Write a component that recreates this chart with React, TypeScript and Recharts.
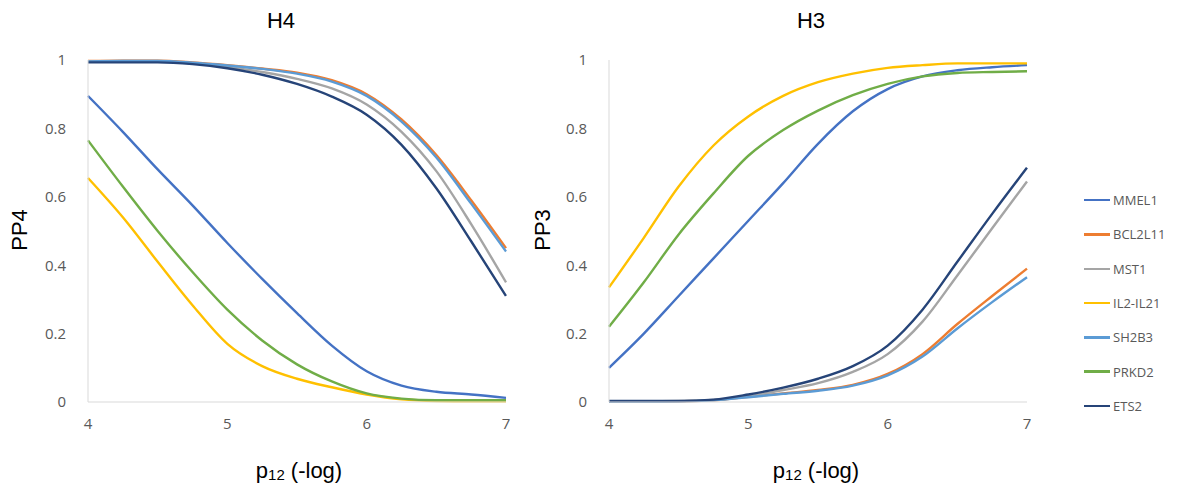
import React from 'react';
import { LineChart, Line, XAxis, YAxis } from 'recharts';

// ─── Data ────────────────────────────────────────────────────────────────────

const xValues = [4, 4.25, 4.5, 4.75, 5, 5.25, 5.5, 5.75, 6, 6.25, 6.5, 6.75, 7];
const xTicks = [4, 5, 6, 7];
const yTicks = [0, 0.2, 0.4, 0.6, 0.8, 1];

const seriesNames = ['MMEL1', 'BCL2L11', 'MST1', 'IL2-IL21', 'SH2B3', 'PRKD2', 'ETS2'];
const seriesColors = ['#4472C4', '#ED7D31', '#A5A5A5', '#FFC000', '#5B9BD5', '#70AD47', '#264478'];

// H4 panel (PP4)
const h4MMEL1 = [0.895, 0.79, 0.68, 0.575, 0.465, 0.36, 0.26, 0.165, 0.09, 0.048, 0.03, 0.022, 0.012];
const h4BCL2L11 = [0.997, 0.998, 0.998, 0.993, 0.985, 0.975, 0.963, 0.941, 0.9, 0.826, 0.722, 0.59, 0.45];
const h4MST1 = [0.995, 0.997, 0.997, 0.99, 0.98, 0.965, 0.945, 0.917, 0.87, 0.79, 0.675, 0.52, 0.35];
const h4IL2IL21 = [0.655, 0.54, 0.41, 0.283, 0.17, 0.105, 0.068, 0.043, 0.022, 0.008, 0.003, 0.002, 0.002];
const h4SH2B3 = [0.996, 0.997, 0.997, 0.992, 0.984, 0.974, 0.96, 0.937, 0.895, 0.82, 0.715, 0.58, 0.44];
const h4PRKD2 = [0.765, 0.63, 0.5, 0.38, 0.27, 0.18, 0.11, 0.06, 0.025, 0.01, 0.005, 0.005, 0.005];
const h4ETS2 = [0.993, 0.993, 0.993, 0.988, 0.976, 0.957, 0.93, 0.893, 0.84, 0.752, 0.625, 0.47, 0.31];

// H3 panel (PP3)
const h3MMEL1 = [0.1, 0.2, 0.31, 0.42, 0.53, 0.64, 0.755, 0.85, 0.915, 0.952, 0.97, 0.979, 0.985];
const h3BCL2L11 = [0.001, 0.001, 0.002, 0.005, 0.015, 0.025, 0.035, 0.05, 0.082, 0.14, 0.228, 0.31, 0.39];
const h3MST1 = [0.002, 0.002, 0.003, 0.006, 0.017, 0.035, 0.055, 0.088, 0.14, 0.235, 0.37, 0.508, 0.645];
const h3IL2IL21 = [0.335, 0.48, 0.63, 0.75, 0.835, 0.895, 0.935, 0.96, 0.977, 0.985, 0.99, 0.99, 0.99];
const h3SH2B3 = [0.001, 0.001, 0.002, 0.005, 0.014, 0.024, 0.033, 0.048, 0.078, 0.133, 0.215, 0.292, 0.365];
const h3PRKD2 = [0.22, 0.35, 0.49, 0.61, 0.72, 0.795, 0.852, 0.897, 0.93, 0.952, 0.962, 0.965, 0.967];
const h3ETS2 = [0.003, 0.003, 0.003, 0.007, 0.022, 0.042, 0.068, 0.105, 0.165, 0.27, 0.41, 0.55, 0.685];

const h4Series = [h4MMEL1, h4BCL2L11, h4MST1, h4IL2IL21, h4SH2B3, h4PRKD2, h4ETS2];
const h3Series = [h3MMEL1, h3BCL2L11, h3MST1, h3IL2IL21, h3SH2B3, h3PRKD2, h3ETS2];

const toRows = (series: number[][]) =>
  xValues.map((x, i) => {
    const row: Record<string, number> = { x };
    seriesNames.forEach((name, s) => { row[name] = series[s][i]; });
    return row;
  });

const h4Data = toRows(h4Series);
const h3Data = toRows(h3Series);

// ─── Styles ──────────────────────────────────────────────────────────────────

const TITLE_FONT = '"Liberation Sans", Arial, sans-serif';
const TICK_FONT = '"Open Sans", "Noto Sans", sans-serif';
const AXIS_COLOR = '#D9D9D9';
const TICK_STYLE = { fontSize: 15, fill: '#595959', fontFamily: TICK_FONT };

// ─── Panel ───────────────────────────────────────────────────────────────────

interface PanelProps {
  data: Record<string, number>[];
  left: number;
  yWidth: number;
  rightMargin: number;
  title: string;
  titleX: number;
  yLabel: string;
  yLabelX: number;
  xLabelX: number;
}

function Panel({ data, left, yWidth, rightMargin, title, titleX, yLabel, yLabelX, xLabelX }: PanelProps) {
  return (
    <>
      <div style={{ position: 'absolute', left, top: 0 }}>
        <LineChart width={540} height={490} data={data} margin={{ top: 60, right: rightMargin, bottom: 58, left: 0 }}>
          <XAxis
            dataKey="x"
            type="number"
            domain={[4, 7]}
            ticks={xTicks}
            height={30}
            stroke={AXIS_COLOR}
            tickLine={false}
            tick={TICK_STYLE}
            tickMargin={10}
          />
          <YAxis
            type="number"
            domain={[0, 1]}
            ticks={yTicks}
            width={yWidth}
            stroke={AXIS_COLOR}
            tickLine={false}
            tick={TICK_STYLE}
            tickMargin={16}
          />
          {seriesNames.map((name, i) => (
            <Line
              key={name}
              type="monotone"
              dataKey={name}
              stroke={seriesColors[i]}
              strokeWidth={2.4}
              dot={false}
              isAnimationActive={false}
            />
          ))}
        </LineChart>
      </div>
      <div style={{ position: 'absolute', left: titleX - 50, top: 8, width: 100, textAlign: 'center', fontFamily: TITLE_FONT, fontSize: 22, color: '#000' }}>
        {title}
      </div>
      <div style={{ position: 'absolute', left: yLabelX - 50, top: 218, width: 100, height: 24, lineHeight: '24px', textAlign: 'center', transform: 'rotate(-90deg)', fontFamily: TITLE_FONT, fontSize: 22, color: '#000' }}>
        {yLabel}
      </div>
      <div style={{ position: 'absolute', left: xLabelX - 100, top: 458, width: 200, textAlign: 'center', fontFamily: TITLE_FONT, fontSize: 22, color: '#000' }}>
        p<span style={{ fontSize: 15, verticalAlign: -2 }}>12</span> (-log)
      </div>
    </>
  );
}

// ─── App ─────────────────────────────────────────────────────────────────────

export default function App() {
  return (
    <div style={{ position: 'absolute', left: 0, top: 0, width: 1181, height: 490, background: '#fff', overflow: 'hidden' }}>
      <Panel data={h4Data} left={0} yWidth={88} rightMargin={34} title="H4" titleX={281} yLabel="PP4" yLabelX={20} xLabelX={299} />
      <Panel data={h3Data} left={520} yWidth={89} rightMargin={33} title="H3" titleX={811} yLabel="PP3" yLabelX={543} xLabelX={816} />
      <div style={{ position: 'absolute', left: 1084, top: 183 }}>
        {seriesNames.map((name, i) => (
          <div key={name} style={{ display: 'flex', alignItems: 'center', height: 34.3 }}>
            <div style={{ width: 26, height: 2.4, background: seriesColors[i], marginRight: 3 }} />
            <span style={{ fontFamily: TICK_FONT, fontSize: 13, color: '#595959' }}>{name}</span>
          </div>
        ))}
      </div>
    </div>
  );
}
